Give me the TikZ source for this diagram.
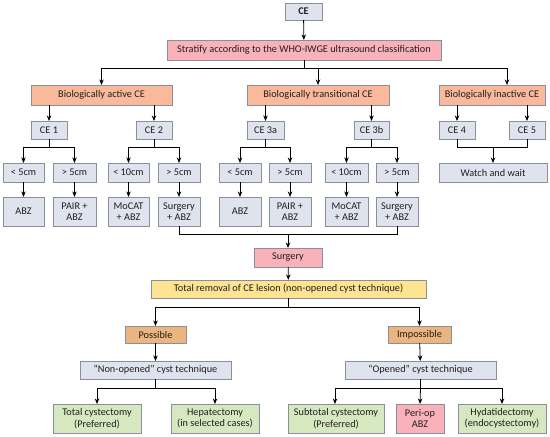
\documentclass[tikz,border=0pt]{standalone}
\usepackage{fontspec}
\setmainfont{Carlito}
\usetikzlibrary{arrows.meta,calc}
\definecolor{gfill}{HTML}{DFE3EE}
\definecolor{gline}{HTML}{8A8F99}
\definecolor{pfill}{HTML}{F9B2BA}
\definecolor{ofill}{HTML}{FBB99C}
\definecolor{bfill}{HTML}{EBB57F}
\definecolor{yfill}{HTML}{FDE492}
\definecolor{vfill}{HTML}{D6E8C0}
\definecolor{txt}{HTML}{231F20}
\tikzset{
  bxbase/.style={draw=gline,line width=0.7pt,inner sep=0pt,outer sep=0pt,align=center,text=txt,font=\fontsize{7.7}{8.6}\selectfont},
  gbox/.style={bxbase,fill=gfill},
  pbox/.style={bxbase,fill=pfill},
  obox/.style={bxbase,fill=ofill},
  bbox/.style={bxbase,fill=bfill},
  ybox/.style={bxbase,fill=yfill},
  vbox/.style={bxbase,fill=vfill},
  arr/.style={draw=black,line width=0.6pt,-{Stealth[length=4.2pt,width=3.4pt]}},
  ln/.style={draw=black,line width=0.6pt}
}
\newcommand\bx[7]{\node[#1,minimum width={(#5-#3)*0.75pt},minimum height={(#6-#4)*0.75pt}] (#2) at ({(#3+#5)/2},{(#4+#6)/2}) {#7};}
\begin{document}
\begin{tikzpicture}[x=0.75pt,y=-0.75pt]
\useasboundingbox (0,0) rectangle (550,436);
% level 0-1
\bx{gbox}{ce}{285}{3}{322}{20}{\textbf{CE}}
\bx{pbox}{strat}{167}{40}{441}{60}{Stratify according to the WHO-IWGE ultrasound classification}
% level 2
\bx{obox}{bioA}{31}{85}{172}{105}{Biologically active CE}
\bx{obox}{bioT}{247}{85}{389}{105}{Biologically transitional CE}
\bx{obox}{bioI}{439}{85}{545}{105}{Biologically inactive CE}
% level 3
\bx{gbox}{ce1}{31}{121}{67}{139}{CE 1}
\bx{gbox}{ce2}{136}{121}{172}{139}{CE 2}
\bx{gbox}{ce3a}{247}{121}{284}{139}{CE 3a}
\bx{gbox}{ce3b}{354}{121}{389}{139}{CE 3b}
\bx{gbox}{ce4}{439}{121}{475}{139}{CE 4}
\bx{gbox}{ce5}{509}{121}{545}{139}{CE 5}
% level 4
\bx{gbox}{s1}{3}{163}{44}{182}{< 5cm}
\bx{gbox}{s2}{53}{163}{96}{182}{> 5cm}
\bx{gbox}{s3}{108}{163}{149}{182}{< 10cm}
\bx{gbox}{s4}{158}{163}{200}{182}{> 5cm}
\bx{gbox}{s5}{219}{163}{261}{182}{< 5cm}
\bx{gbox}{s6}{269}{163}{311}{182}{> 5cm}
\bx{gbox}{s7}{325}{163}{368}{182}{< 10cm}
\bx{gbox}{s8}{376}{163}{418}{182}{> 5cm}
\bx{gbox}{ww}{439}{163}{547}{182}{Watch and wait}
% level 5
\bx{gbox}{t1}{3}{197}{44}{226}{ABZ}
\bx{gbox}{t2}{53}{197}{96}{226}{PAIR +\\ABZ}
\bx{gbox}{t3}{108}{197}{149}{226}{MoCAT\\+ ABZ}
\bx{gbox}{t4}{158}{197}{200}{226}{Surgery\\+ ABZ}
\bx{gbox}{t5}{219}{197}{261}{226}{ABZ}
\bx{gbox}{t6}{269}{197}{311}{226}{PAIR +\\ABZ}
\bx{gbox}{t7}{325}{197}{368}{226}{MoCAT\\+ ABZ}
\bx{gbox}{t8}{376}{197}{418}{226}{Surgery\\+ ABZ}
% surgery
\bx{pbox}{surg}{254}{248}{322}{267}{Surgery}
\bx{ybox}{tot}{151}{280}{426}{298}{Total removal of CE lesion (non-opened cyst technique)}
\bx{bbox}{pos}{125}{326}{186}{343}{Possible}
\bx{bbox}{imp}{388}{326}{451}{343}{Impossible}
\bx{gbox}{nonop}{80}{361}{231}{379}{``Non-opened'' cyst technique}
\bx{gbox}{op}{345}{361}{496}{379}{``Opened'' cyst technique}
\bx{vbox}{totc}{53}{404}{141}{433}{Total cystectomy\\(Preferred)}
\bx{vbox}{hep}{171}{404}{259}{433}{Hepatectomy\\(in selected cases)}
\bx{vbox}{sub}{288}{404}{384}{433}{Subtotal cystectomy\\(Preferred)}
\bx{pbox}{peri}{396}{404}{444}{433}{Peri-op\\ABZ}
\bx{vbox}{hyd}{458}{404}{546}{433}{Hydatidectomy\\(endocystectomy)}
% connectors
\draw[arr] (ce) -- (strat);
\coordinate (j0) at ($(strat.south)+(0,8)$);
\draw[ln] (strat.south) -- (j0);
\draw[arr] (j0) -| (bioA.north);
\draw[arr] (j0) -| (bioT.north);
\draw[arr] (j0) -| ($(bioI.north east)+(-38,0)$);
\draw[arr] (bioA.south -| ce1) -- (ce1.north);
\draw[arr] (bioA.south -| ce2) -- (ce2.north);
\draw[arr] (bioT.south -| ce3a) -- (ce3a.north);
\draw[arr] (bioT.south -| ce3b) -- (ce3b.north);
\draw[arr] (bioI.south -| ce4) -- (ce4.north);
\draw[arr] (bioI.south -| ce5) -- (ce5.north);
% splits
\foreach \p/\a/\b in {ce1/s1/s2, ce2/s3/s4, ce3a/s5/s6, ce3b/s7/s8}{
  \coordinate (k) at ($(\p.south)+(0,8)$);
  \draw[ln] (\p.south) -- (k);
  \draw[arr] (k) -| (\a.north);
  \draw[arr] (k) -| (\b.north);
}
\coordinate (k45) at ($(ce4.south)+(0,8)$);
\draw[ln] (ce4.south) -- (k45) -- (k45 -| ce5) -- (ce5.south);
\draw[arr] (k45 -| ww) -- (ww.north);
\foreach \a/\b in {s1/t1,s2/t2,s3/t3,s4/t4,s5/t5,s6/t6,s7/t7,s8/t8}{
  \draw[arr] (\a) -- (\b);
}
\coordinate (ks) at ($(t4.south)+(0,8)$);
\draw[ln] (t4.south) -- (ks) -- (ks -| t8) -- (t8.south);
\draw[arr] (ks -| surg) -- (surg.north);
\draw[arr] (surg) -- (tot);
\coordinate (kt) at ($(tot.south)+(0,9)$);
\draw[ln] (tot.south -| surg) -- (kt -| surg);
\draw[arr] (kt -| surg) -| (pos.north);
\draw[arr] (kt -| surg) -| (imp.north);
\draw[arr] (pos) -- (nonop);
\draw[arr] (imp) -- (op);
\coordinate (kn) at ($(nonop.south)+(0,9)$);
\draw[ln] (nonop.south) -- (kn);
\draw[arr] (kn) -| ($(totc.north west)+(44,0)$);
\draw[arr] (kn) -| ($(hep.north west)+(44,0)$);
\coordinate (ko) at ($(op.south)+(0,9)$);
\draw[ln] (op.south) -- (ko);
\draw[arr] (ko) -| ($(sub.north west)+(47,0)$);
\draw[arr] (ko) -- (peri.north);
\draw[arr] (ko) -| ($(hyd.north west)+(44,0)$);
\end{tikzpicture}
\end{document}
